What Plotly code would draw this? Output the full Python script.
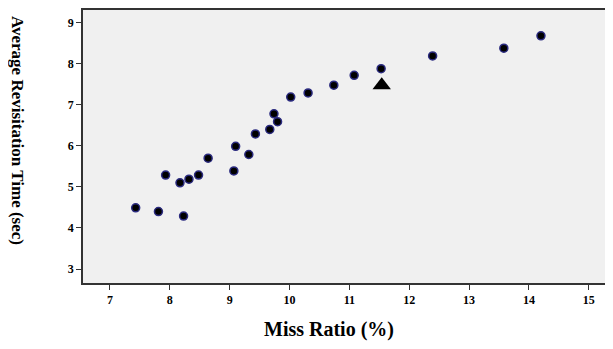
import plotly.graph_objects as go

miss_ratio = [7.43, 7.81, 7.93, 8.17, 8.23, 8.32, 8.48, 8.64, 9.07, 9.10, 9.32,
              9.43, 9.67, 9.74, 9.80, 10.02, 10.31, 10.74, 11.08, 11.53, 12.39,
              13.58, 14.20]
revisit_time = [4.49, 4.40, 5.29, 5.10, 4.29, 5.19, 5.29, 5.70, 5.39, 5.99, 5.79,
                6.29, 6.40, 6.78, 6.59, 7.19, 7.29, 7.48, 7.72, 7.88, 8.19,
                8.38, 8.68]
marker_x = [11.54]
marker_y = [7.48]

x_ticks = [7, 8, 9, 10, 11, 12, 13, 14, 15]
y_ticks = [3, 4, 5, 6, 7, 8, 9]

# page body has ~8px margin; figure placed at (8,8) in the window
OFF = 8
W, H = 613 - OFF, 349 - OFF
L, R, T, B = 83 - OFF, 1, 0, 66

fig = go.Figure()
fig.add_trace(go.Scatter(
    x=miss_ratio, y=revisit_time, mode="markers",
    marker=dict(size=8, color="#000000", line=dict(color="#2b2b80", width=1.5)),
    showlegend=False,
))
fig.add_trace(go.Scatter(
    x=marker_x, y=marker_y, mode="markers",
    marker=dict(symbol="triangle-up", size=16, color="#000000"),
    showlegend=False,
))

font_serif = "Liberation Serif, Times New Roman, serif"
axis_common = dict(
    showgrid=False, zeroline=False, showline=True, mirror=True,
    linecolor="#333333", linewidth=1.5, ticks="outside", ticklen=5,
    tickcolor="#333333", tickwidth=1,
    tickfont=dict(family=font_serif, size=12, color="#000000", weight="bold"),
)
fig.update_xaxes(range=[6.55, 15.37], tickvals=x_ticks, **axis_common)
fig.update_yaxes(range=[2.66, 9.31], tickvals=y_ticks, **axis_common)

pw, ph = W - L - R, H - T - B


def to_paper(px, py):
    # px, py are window pixel coords
    fx, fy = px - OFF, py - OFF
    return (fx - L) / pw, (H - B - fy) / ph


xt = to_paper(329, 330)
yt = to_paper(18, 129)

fig.update_layout(
    width=W, height=H,
    margin=dict(l=L, r=R, t=T, b=B, pad=0),
    plot_bgcolor="#f0f0f0", paper_bgcolor="#ffffff",
    annotations=[
        dict(text="<b>Miss Ratio (%)</b>", x=xt[0], y=xt[1], xref="paper", yref="paper",
             xanchor="center", yanchor="middle", showarrow=False,
             font=dict(family=font_serif, size=20, color="#000000")),
        dict(text="<b>Average Revisitation Time (sec)</b>", x=yt[0], y=yt[1],
             xref="paper", yref="paper", xanchor="center", yanchor="middle",
             showarrow=False, textangle=90, borderpad=0,
             font=dict(family=font_serif, size=17, color="#000000")),
    ],
)

fig.write_html("out.html")
